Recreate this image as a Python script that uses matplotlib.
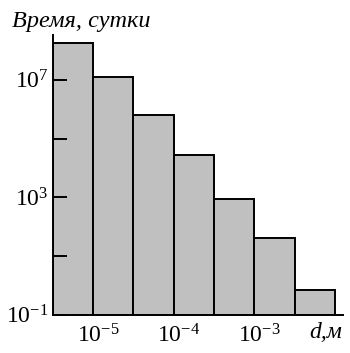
"""
Histogram of time (days) vs particle size d, log-log axes
"""
import matplotlib
matplotlib.use("Agg")
import matplotlib.pyplot as plt
import matplotlib.transforms as mtransforms

plt.rcParams['font.family'] = ['Liberation Serif', 'DejaVu Serif']
plt.rcParams['mathtext.fontset'] = 'custom'
plt.rcParams['mathtext.rm'] = 'Liberation Serif'
plt.rcParams['mathtext.it'] = 'Liberation Serif:italic'

# Data: bin edges in d (metres), bar heights (days)
bin_edges = [10**-5.5, 10**-5, 10**-4.5, 10**-4, 10**-3.5, 10**-3, 10**-2.5, 10**-2]
times = [1.8e8, 1.26e7, 6.5e5, 2.8e4, 900, 42, 0.7]

x_ticks = [1e-5, 1e-4, 1e-3]
x_labels = [r'$\mathregular{10^{-5}}$', r'$\mathregular{10^{-4}}$', r'$\mathregular{10^{-3}}$']
y_ticks = [1e-1, 1e1, 1e3, 1e5, 1e7]
y_labels = [r'$\mathregular{10^{-1}}$', '', r'$\mathregular{10^{3}}$', '', r'$\mathregular{10^{7}}$']

fig = plt.figure(figsize=(3.5, 3.53), dpi=100)
ax = fig.add_axes([0.151, 0.108, 0.829, 0.793])

lefts = bin_edges[:-1]
widths = [b - a for a, b in zip(bin_edges[:-1], bin_edges[1:])]
ax.bar(lefts, [t - 0.1 for t in times], width=widths, bottom=0.1, align='edge',
       color='#c0c0c0', edgecolor='black', linewidth=1.4)

ax.set_xscale('log')
ax.set_yscale('log')
ax.set_xlim(10**-5.5, 10**-1.9)
ax.set_ylim(1e-1, 10**8.53)

ax.spines['top'].set_visible(False)
ax.spines['right'].set_visible(False)
for s in ['left', 'bottom']:
    ax.spines[s].set_linewidth(1.4)

ax.set_xticks(x_ticks)
ax.set_xticklabels(x_labels, fontsize=17)
ax.xaxis.set_minor_locator(matplotlib.ticker.NullLocator())
ax.tick_params(axis='x', length=0, pad=7)
offset = mtransforms.ScaledTranslation(5 / 100, 0, fig.dpi_scale_trans)
for lbl in ax.get_xticklabels():
    lbl.set_transform(lbl.get_transform() + offset)

ax.set_yticks(y_ticks)
ax.set_yticklabels(y_labels, fontsize=17)
ax.yaxis.set_minor_locator(matplotlib.ticker.NullLocator())
ax.tick_params(axis='y', direction='in', length=10, width=1.4, pad=3)

fig.text(12 / 350, 1 - 11 / 353, 'Время, сутки', fontsize=17.5, style='italic',
         ha='left', va='top')
fig.text(309 / 350, 1 - 338 / 353, 'd,м', fontsize=17, style='italic',
         ha='left', va='baseline')

plt.savefig('out.png', dpi=100)
